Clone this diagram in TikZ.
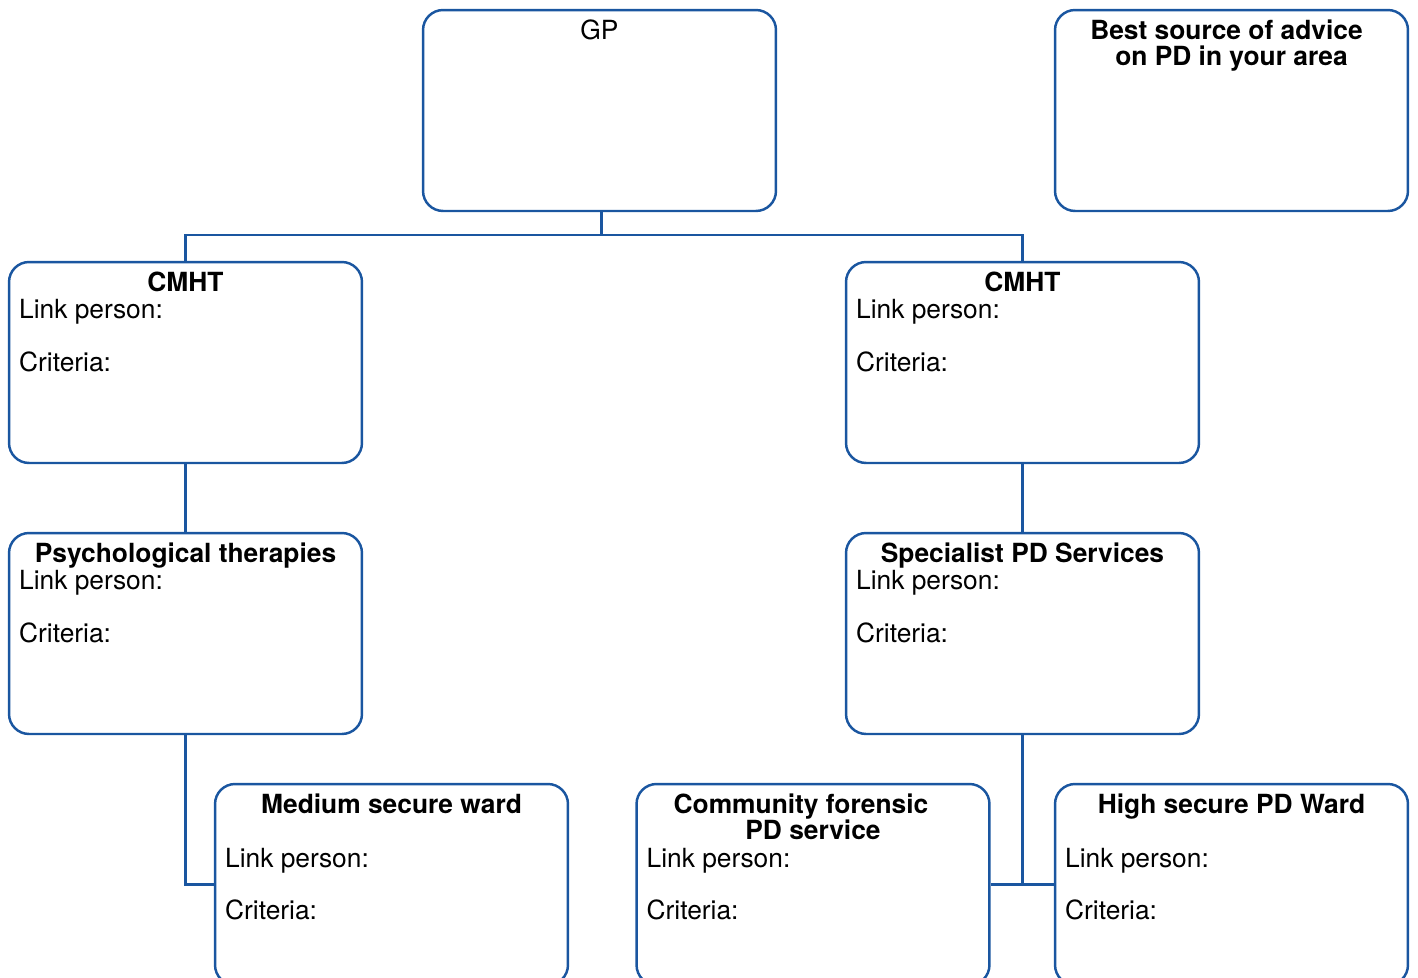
\documentclass[tikz,border=0pt]{standalone}
\usepackage{fontspec}
\setmainfont{TeX Gyre Heros}
\usetikzlibrary{calc}
\definecolor{nhsblue}{HTML}{1A56A0}

\begin{document}
\begin{tikzpicture}[x=0.02cm, y=-0.02cm,
    unit/.style={draw=nhsblue, line width=1.4pt, rounded corners=0.4cm,
      minimum width=7.06cm, minimum height=4.02cm, inner sep=0pt},
    link/.style={draw=nhsblue, line width=1.4pt},
    title/.style={anchor=base, align=center, inner sep=0pt,
      font=\fontsize{15}{14.8}\selectfont\bfseries},
    body/.style={anchor=base west, inner sep=0pt,
      font=\fontsize{15}{16}\selectfont}]
    \clip (0,0) rectangle (1418,978);

    % boxes
    \node[unit] (gp) at (599.5,110.5) {};
    \node[unit] (best) at (1231.5,110.5) {};
    \node[unit] (cmhtL) at (185.5,362.5) {};
    \node[unit] (cmhtR) at (1022.5,362.5) {};
    \node[unit] (psych) at (185.5,633.5) {};
    \node[unit] (spec) at (1022.5,633.5) {};
    \node[unit] (medium) at (391.5,884.5) {};
    \node[unit] (forensic) at (813,884.5) {};
    \node[unit] (high) at (1231.5,884.5) {};

    % titles (two-line ones sit on their last line)
    \node[title, font=\fontsize{15}{14.8}\selectfont] (gpT) at ($(gp.north)+(0,31)$) {GP};
    \node[title] (bestT) at ($(best.north)+(0,57)$) {Best source of advice\hspace*{0.2cm}\\on PD in your area};
    \node[title] (cmhtLT) at ($(cmhtL.north)+(0,31)$) {CMHT};
    \node[title] (cmhtRT) at ($(cmhtR.north)+(0,31)$) {CMHT};
    \node[title] (psychT) at ($(psych.north)+(0,31)$) {Psychological therapies};
    \node[title] (specT) at ($(spec.north)+(0,31)$) {Specialist PD Services};
    \node[title] (mediumT) at ($(medium.north)+(0,31)$) {Medium secure ward};
    \node[title] (forensicT) at ($(forensic.north)+(0,57)$) {Community forensic\hspace*{0.48cm}\\PD service};
    \node[title] (highT) at ($(high.north)+(0,31)$) {High secure PD Ward};

    % link person / criteria
    \foreach \b/\l/\c in {cmhtL/58/111, cmhtR/58/111, psych/58/111, spec/58/111,
                          medium/85/137, forensic/85/137, high/85/137} {
      \node[body] (\b link) at ($(\b.north west)+(11,\l)$) {Link person:};
      \node[body] (\b crit) at ($(\b.north west)+(11,\c)$) {Criteria:};
    }

    % connectors
    \coordinate (bus) at ($(gp.south)+(2,23)$);
    \draw[link] (bus |- gp.south) -- (bus);
    \draw[link] (cmhtL.north) |- (bus) -| (cmhtR.north);
    \draw[link] (cmhtL.south) -- (psych.north);
    \draw[link] (cmhtR.south) -- (spec.north);
    \draw[link] (psych.south) |- (medium.west);
    \draw[link] (spec.south) -- (spec.south |- high.west);
    \draw[link] (forensic.east) -- (high.west);
  \end{tikzpicture}
\end{document}
